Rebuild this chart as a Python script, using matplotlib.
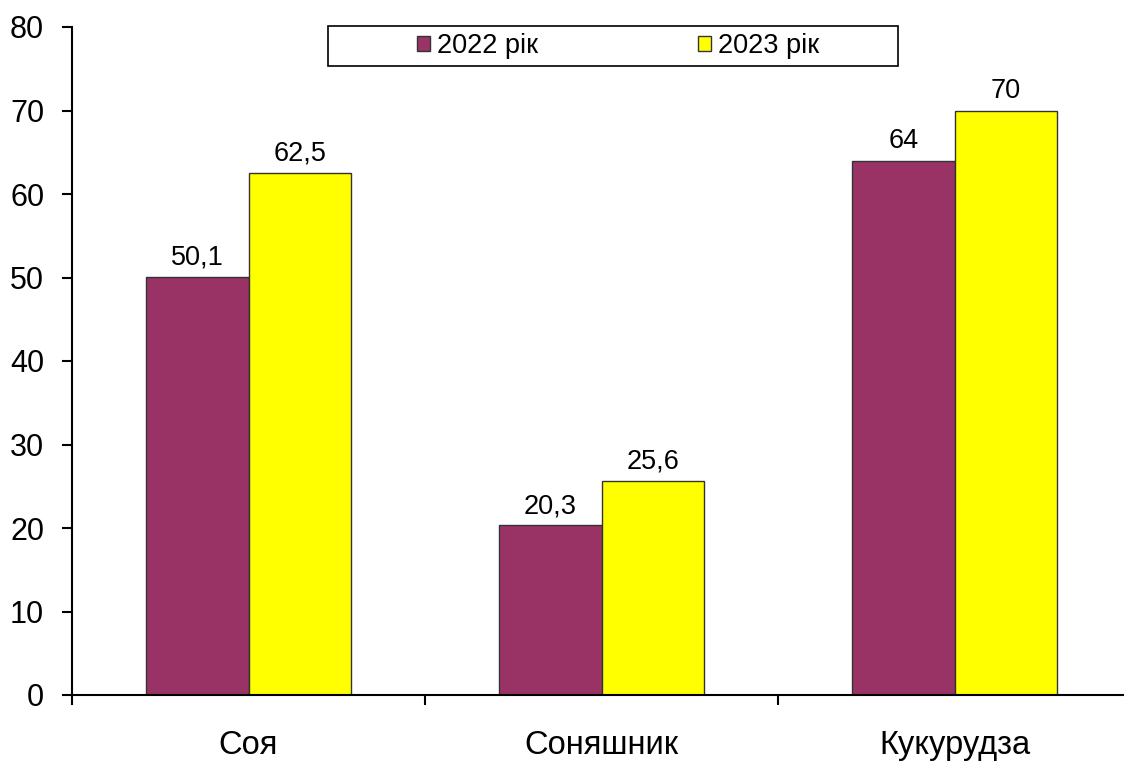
import numpy as np
import matplotlib.pyplot as plt
from matplotlib.patches import Rectangle

plt.rcParams['font.family'] = ['Liberation Sans', 'DejaVu Sans']

# Дані
crops = ['Соя', 'Соняшник', 'Кукурудза']
years = ['2022 рік', '2023 рік']
values_2022 = [50.1, 20.3, 64]
values_2023 = [62.5, 25.6, 70]
colors = ['#993366', '#FFFF00']


def fmt(v):
    s = f'{v:g}'
    return s.replace('.', ',')


fig = plt.figure(figsize=(11.24, 7.62), dpi=100)
ax = fig.add_axes([72 / 1124, 1 - 695 / 762, 1059 / 1124, 668 / 762])

x = np.arange(len(crops))
w = 0.29
bars1 = ax.bar(x - w / 2, values_2022, w, color=colors[0], edgecolor='#333333',
               linewidth=1, label=years[0])
bars2 = ax.bar(x + w / 2, values_2023, w, color=colors[1], edgecolor='#333333',
               linewidth=1, label=years[1])

for bars, vals in [(bars1, values_2022), (bars2, values_2023)]:
    for b, v in zip(bars, vals):
        ax.annotate(fmt(v), (b.get_x() + b.get_width() / 2, v),
                    xytext=(0, 4.5), textcoords='offset points',
                    ha='center', va='bottom', fontsize=19.5)

ax.set_xlim(-0.5, 2.5)
ax.set_ylim(0, 80)
ax.set_yticks(range(0, 81, 10))
ax.tick_params(axis='y', labelsize=22, length=7, width=1.5, pad=13)

ax.set_xticks([-0.5, 0.5, 1.5, 2.5])
ax.set_xticklabels([])
ax.set_xticks(x, minor=True)
ax.set_xticklabels(crops, minor=True)
ax.tick_params(axis='x', which='major', length=7, width=1.5)
ax.tick_params(axis='x', which='minor', length=0, labelsize=23.5, pad=25)

for s in ['top', 'right']:
    ax.spines[s].set_visible(False)
for s in ['left', 'bottom']:
    ax.spines[s].set_linewidth(1.5)

# рамка легенди
fig.patches.append(Rectangle((328 / 1124, 1 - 66 / 762), 570 / 1124, 40 / 762,
                             transform=fig.transFigure, facecolor='white',
                             edgecolor='black', linewidth=1.2, zorder=5))
fig.legend(loc='center', bbox_to_anchor=(618 / 1124, 1 - 46 / 762), ncol=2,
           frameon=False, fontsize=19.5, handlelength=0.5, handleheight=0.5,
           handletextpad=0.25, columnspacing=5.9)

fig.savefig('out.png', dpi=100)
